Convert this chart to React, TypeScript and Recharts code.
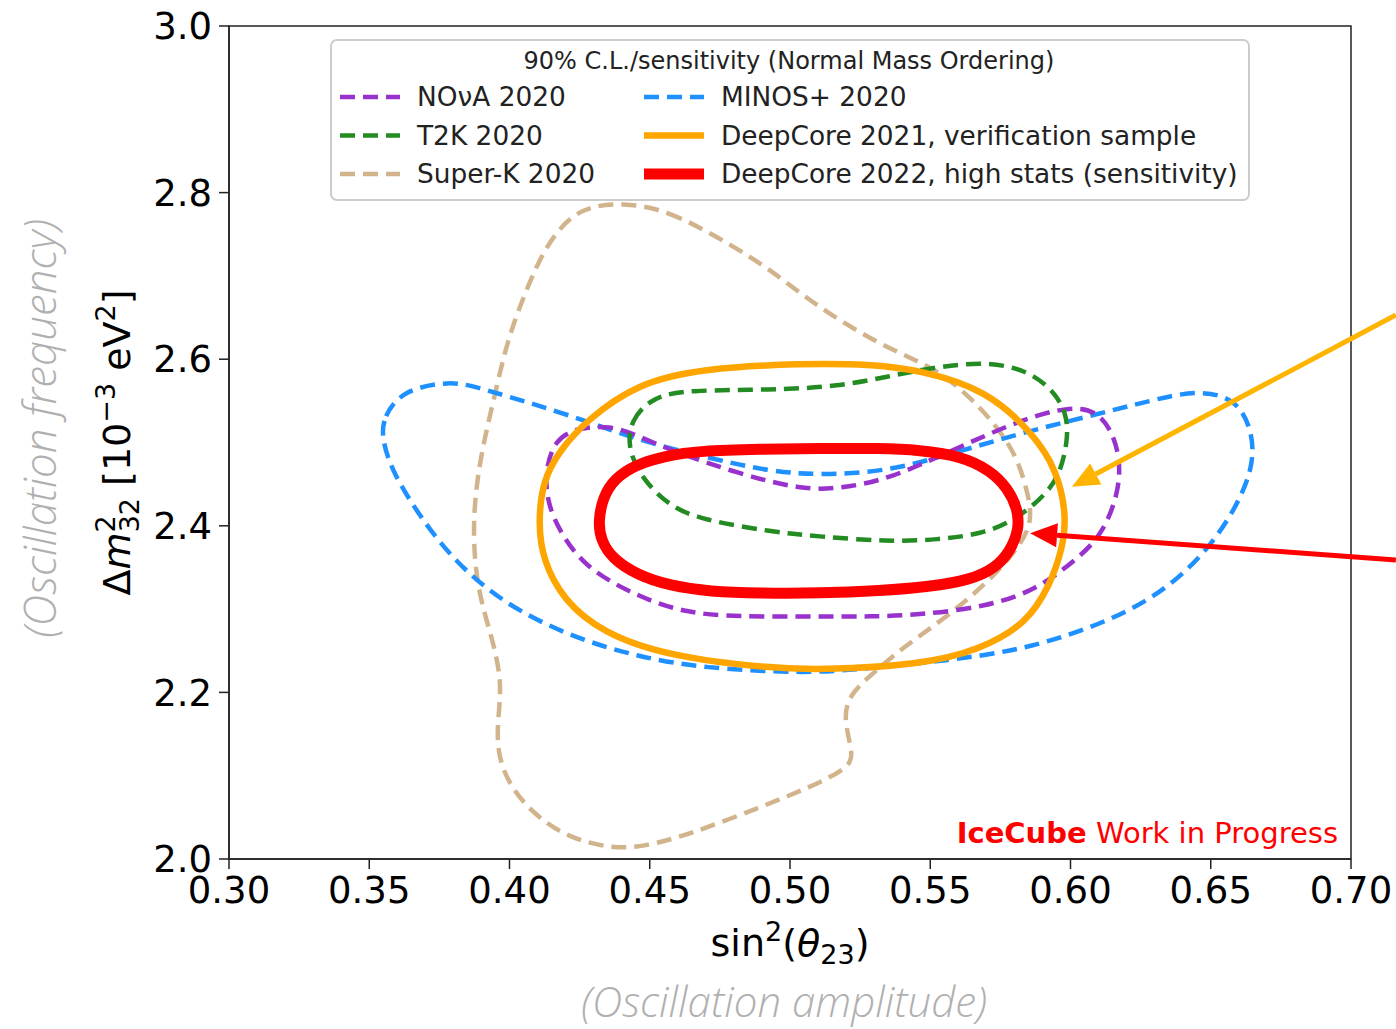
import React from "react";
import {
  ComposedChart, Line, XAxis, YAxis, ReferenceArea, ReferenceLine, Legend, Label
} from "recharts";

// axis ticks
const xTicks = [0.3, 0.35, 0.4, 0.45, 0.5, 0.55, 0.6, 0.65, 0.7];
const yTicks = [2.0, 2.2, 2.4, 2.6, 2.8, 3.0];

// 90% C.L. contours, points as [sin2(theta23), dm2_32]
const superK2020 = [
  [0.4405, 2.788], [0.4561, 2.779], [0.474, 2.747], [0.4918, 2.711], [0.5096, 2.663],
  [0.5332, 2.615], [0.551, 2.591], [0.5642, 2.555], [0.5738, 2.519], [0.5809, 2.483],
  [0.5845, 2.443], [0.5866, 2.407], [0.582, 2.375], [0.5702, 2.331], [0.556, 2.291],
  [0.5403, 2.254], [0.531, 2.227], [0.5214, 2.199], [0.5189, 2.17], [0.5225, 2.127],
  [0.5214, 2.11], [0.5071, 2.086], [0.4893, 2.062], [0.4654, 2.031], [0.4476, 2.014],
  [0.4358, 2.013], [0.4216, 2.025], [0.4098, 2.05], [0.4002, 2.086], [0.3955, 2.127],
  [0.3959, 2.17], [0.3973, 2.211], [0.3941, 2.263], [0.3884, 2.323], [0.3866, 2.403],
  [0.3895, 2.483], [0.3948, 2.557], [0.3984, 2.611], [0.4027, 2.655], [0.4098, 2.715],
  [0.4169, 2.755], [0.4262, 2.783],
];

const minos2020 = [
  [0.3545, 2.503], [0.3549, 2.531], [0.362, 2.563], [0.3777, 2.573], [0.3859, 2.569],
  [0.3977, 2.557], [0.4216, 2.533], [0.4455, 2.503], [0.469, 2.483], [0.4929, 2.465],
  [0.5107, 2.461], [0.5346, 2.465], [0.5581, 2.487], [0.582, 2.511], [0.6059, 2.531],
  [0.6294, 2.551], [0.6451, 2.563], [0.6594, 2.553], [0.6651, 2.511], [0.6651, 2.471],
  [0.6594, 2.423], [0.6473, 2.363], [0.6294, 2.311], [0.6059, 2.275], [0.582, 2.251],
  [0.5581, 2.239], [0.5225, 2.227], [0.5046, 2.223], [0.469, 2.229], [0.4455, 2.243],
  [0.4216, 2.267], [0.3977, 2.307], [0.3799, 2.359], [0.3681, 2.411], [0.3585, 2.463],
];

const nova2020 = [
  [0.4127, 2.467], [0.4162, 2.503], [0.4234, 2.517], [0.4358, 2.521], [0.4465, 2.507],
  [0.4572, 2.491], [0.4811, 2.463], [0.5046, 2.443], [0.5178, 2.445], [0.5346, 2.455],
  [0.5581, 2.491], [0.582, 2.527], [0.6009, 2.545], [0.6116, 2.535], [0.6176, 2.491],
  [0.6176, 2.443], [0.6116, 2.391], [0.6034, 2.363], [0.588, 2.323], [0.5702, 2.303],
  [0.5463, 2.293], [0.5285, 2.291], [0.5107, 2.291], [0.4811, 2.291], [0.4633, 2.295],
  [0.4455, 2.315], [0.4262, 2.351], [0.4169, 2.399], [0.4134, 2.431],
];

const t2k2020 = [
  [0.4422, 2.491], [0.443, 2.527], [0.4512, 2.555], [0.4633, 2.563], [0.4929, 2.563],
  [0.5168, 2.567], [0.5346, 2.579], [0.5524, 2.591], [0.5702, 2.597], [0.5845, 2.587],
  [0.5938, 2.563], [0.5987, 2.535], [0.5991, 2.503], [0.5963, 2.463], [0.5916, 2.439],
  [0.582, 2.411], [0.5702, 2.391], [0.5524, 2.383], [0.5346, 2.381], [0.5107, 2.387],
  [0.4929, 2.393], [0.469, 2.407], [0.4572, 2.423], [0.4476, 2.455],
];

const deepCore2021 = [
  [0.4102, 2.403], [0.4119, 2.455], [0.418, 2.491], [0.4276, 2.527], [0.4455, 2.571],
  [0.469, 2.589], [0.5046, 2.595], [0.5285, 2.594], [0.5463, 2.587], [0.5702, 2.563],
  [0.5866, 2.511], [0.5952, 2.467], [0.5987, 2.411], [0.597, 2.371], [0.5927, 2.329],
  [0.5845, 2.283], [0.5677, 2.251], [0.5463, 2.233], [0.5107, 2.227], [0.4929, 2.229],
  [0.4572, 2.243], [0.4333, 2.271], [0.4191, 2.311], [0.4119, 2.359],
];

const deepCore2022 = [
  [0.4316, 2.404], [0.4333, 2.435], [0.4376, 2.457], [0.4447, 2.473], [0.4554, 2.484],
  [0.4679, 2.49], [0.4893, 2.492], [0.5107, 2.493], [0.5321, 2.493], [0.5463, 2.491],
  [0.5606, 2.484], [0.5713, 2.467], [0.5777, 2.445], [0.5813, 2.419], [0.5816, 2.395],
  [0.5784, 2.369], [0.5731, 2.349], [0.5642, 2.335], [0.5499, 2.327], [0.5321, 2.322],
  [0.5107, 2.319], [0.4893, 2.319], [0.4715, 2.321], [0.4572, 2.328], [0.4455, 2.341],
  [0.4365, 2.361], [0.4326, 2.383],
];

// annotation arrows [tail, head]
const orangeArrow = [[0.716, 2.653], [0.6005, 2.447]];
const redArrow = [[0.716, 2.359], [0.5856, 2.391]];

const series = [
  { name: "Super-K 2020", pts: superK2020, color: "#d2b48c", width: 4.5, dash: "15 8" },
  { name: "MINOS+ 2020", pts: minos2020, color: "#1e90ff", width: 4.5, dash: "15 8" },
  { name: "NO\u03bdA 2020", pts: nova2020, color: "#9932cc", width: 4.5, dash: "15 8" },
  { name: "T2K 2020", pts: t2k2020, color: "#228b22", width: 4.5, dash: "15 8" },
  { name: "DeepCore 2021, verification sample", pts: deepCore2021, color: "#ffa500", width: 6.5, dash: undefined },
  { name: "DeepCore 2022, high stats (sensitivity)", pts: deepCore2022, color: "#ff0000", width: 11, dash: undefined },
];

const legendCols = [
  ["NO\u03bdA 2020", "T2K 2020", "Super-K 2020"],
  ["MINOS+ 2020", "DeepCore 2021, verification sample", "DeepCore 2022, high stats (sensitivity)"],
];

const toXY = (pts: number[][]) => pts.map(([x, y]) => ({ x, y }));

const tickFont = { fontFamily: "DejaVu Sans", fontSize: 37, fill: "#000" };
const greyFont = "'Open Sans', sans-serif";

const arrowShape = (color: string, w: number) => (props: any) => {
  const { x1, y1, x2, y2 } = props;
  const a = Math.atan2(y2 - y1, x2 - x1);
  const L = 27, W = 12;
  const bx = x2 - L * Math.cos(a), by = y2 - L * Math.sin(a);
  const px = -Math.sin(a) * W, py = Math.cos(a) * W;
  return (
    <g>
      <line x1={x1} y1={y1} x2={bx} y2={by} stroke={color} strokeWidth={w} />
      <polygon points={`${x2},${y2} ${bx + px},${by + py} ${bx - px},${by - py}`} fill={color} />
    </g>
  );
};

function LegendBox() {
  const byName = (n: string) => series.find((s) => s.name === n)!;
  return (
    <svg width={920} height={162} style={{ display: "block" }}>
      <rect x={1} y={1} width={918} height={160} rx={6} fill="rgba(255,255,255,0.85)" stroke="#cccccc" strokeWidth={2} />
      <text x={459} y={30} textAnchor="middle" fontFamily="DejaVu Sans" fontSize={24} fill="#222">
        90% C.L./sensitivity (Normal Mass Ordering)
      </text>
      {legendCols.map((col, ci) =>
        col.map((n, ri) => {
          const s = byName(n);
          const lx = ci === 0 ? 10 : 314;
          const cy = 58 + ri * 38.5;
          return (
            <g key={n}>
              <line x1={lx} x2={lx + 60} y1={cy} y2={cy} stroke={s.color}
                strokeWidth={s.dash ? 4.5 : s.width} strokeDasharray={s.dash ? "15 8" : undefined} />
              <text x={lx + 77} y={cy + 9} fontFamily="DejaVu Sans" fontSize={26.4} fill="#222">{n}</text>
            </g>
          );
        })
      )}
    </svg>
  );
}

export default function App() {
  return (
    <div style={{ position: "absolute", left: 0, top: 0, width: 1396, height: 1029, background: "#fff" }}>
      <ComposedChart width={1396} height={1029} margin={{ top: 26, right: 45, bottom: 110, left: 149 }}>
        <XAxis
          type="number" dataKey="x" domain={[0.3, 0.7]} ticks={xTicks} allowDataOverflow
          tickFormatter={(v: number) => v.toFixed(2)} tick={tickFont} tickSize={10} tickMargin={8}
          axisLine={{ stroke: "#222", strokeWidth: 1.5 }} tickLine={{ stroke: "#222", strokeWidth: 1.5 }}
          height={60}
        >
          <Label
            content={(p: any) => {
              const vb = p.viewBox;
              const cx = vb.x + vb.width / 2;
              return (
                <g>
                  <text x={cx} y={956} textAnchor="middle" fontFamily="DejaVu Sans" fontSize={38} fill="#000">
                    sin<tspan fontSize={27} dy={-15}>2</tspan>
                    <tspan dy={15}>(</tspan><tspan fontStyle="italic">θ</tspan>
                    <tspan fontSize={27} dy={8}>23</tspan><tspan dy={-8}>)</tspan>
                  </text>
                  <text x={cx - 6} y={1017} textAnchor="middle" fontFamily={greyFont} fontStyle="italic"
                    fontWeight={300} fontSize={42} fill="#b0b0b0">
                    (Oscillation amplitude)
                  </text>
                </g>
              );
            }}
          />
        </XAxis>
        <YAxis
          type="number" domain={[2.0, 3.0]} ticks={yTicks} allowDataOverflow
          tickFormatter={(v: number) => v.toFixed(1)} tick={tickFont} tickSize={10} tickMargin={7}
          axisLine={{ stroke: "#222", strokeWidth: 1.5 }} tickLine={{ stroke: "#222", strokeWidth: 1.5 }}
          width={80}
        >
          <Label
            content={(p: any) => {
              const vb = p.viewBox;
              const cy = vb.y + vb.height / 2;
              return (
                <g>
                  <text x={130} y={cy} transform={`rotate(-90, 130, ${cy})`} textAnchor="middle"
                    fontFamily="DejaVu Sans" fontSize={38} fill="#000">
                    Δ<tspan fontStyle="italic">m</tspan>
                    <tspan fontSize={27} dy={-15}>2</tspan>
                    <tspan fontSize={27} dx={-17} dy={24}>32</tspan>
                    <tspan dy={-9}> [10</tspan>
                    <tspan fontSize={27} dy={-15}>−3</tspan>
                    <tspan dy={15}> eV</tspan>
                    <tspan fontSize={27} dy={-15}>2</tspan>
                    <tspan dy={15}>]</tspan>
                  </text>
                  <text x={56} y={cy - 14} transform={`rotate(-90, 56, ${cy - 14})`} textAnchor="middle"
                    fontFamily={greyFont} fontStyle="italic" fontWeight={300} fontSize={44} fill="#b0b0b0">
                    (Oscillation frequency)
                  </text>
                </g>
              );
            }}
          />
        </YAxis>

        {series.map((s) => (
          <Line
            key={s.name} name={s.name} data={toXY(s.pts)} dataKey="y" type="basisClosed"
            stroke={s.color} strokeWidth={s.width} strokeDasharray={s.dash}
            dot={false} activeDot={false} isAnimationActive={false} legendType="none"
          />
        ))}

        {/* axes frame */}
        <ReferenceArea x1={0.3} x2={0.7} y1={2.0} y2={3.0} fill="none" stroke="#222" strokeWidth={1.5} ifOverflow="visible">
          <Label
            content={(p: any) => {
              const vb = p.viewBox;
              return (
                <text x={vb.x + vb.width - 13} y={vb.y + vb.height - 16} textAnchor="end"
                  fontFamily="DejaVu Sans" fontSize={29} fill="#ff0000">
                  <tspan fontWeight="bold">IceCube</tspan> Work in Progress
                </text>
              );
            }}
          />
        </ReferenceArea>

        <ReferenceLine
          segment={orangeArrow.map(([x, y]) => ({ x, y }))} ifOverflow="visible"
          shape={arrowShape("#ffb400", 5)}
        />
        <ReferenceLine
          segment={redArrow.map(([x, y]) => ({ x, y }))} ifOverflow="visible"
          shape={arrowShape("#ff0000", 5)}
        />

        <Legend
          layout="vertical" align="center" verticalAlign="middle"
          wrapperStyle={{ position: "absolute", left: 330, top: 39, width: 920, height: 162 }}
          content={() => <LegendBox />}
        />
      </ComposedChart>
    </div>
  );
}
